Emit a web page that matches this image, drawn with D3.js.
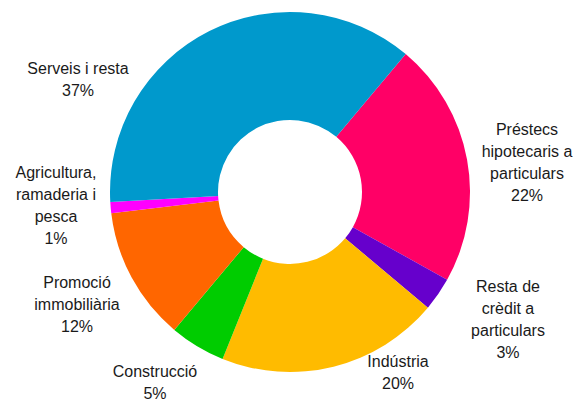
<!DOCTYPE html>
<html>
<head>
<meta charset="utf-8">
<script src="https://cdn.jsdelivr.net/npm/d3@7"></script>
<style>
  html, body { margin: 0; padding: 0; background: #fff; }
  svg text { font-family: "Liberation Sans", Arial, sans-serif; font-size: 16px; fill: #1a1a1a; }
</style>
</head>
<body>
<svg id="chart" width="578" height="399"></svg>
<script>
// Credit distribution by sector (%)
const categories = [
  "Préstecs hipotecaris a particulars",
  "Resta de crèdit a particulars",
  "Indústria",
  "Construcció",
  "Promoció immobiliària",
  "Agricultura, ramaderia i pesca",
  "Serveis i resta"
];
const values = [22, 3, 20, 5, 12, 1, 37];
const colors = ["#ff0066", "#6600cc", "#ffbb00", "#00cc00", "#ff6600", "#ff00ff", "#0099cc"];
// Label text broken into lines
const labelLines = [
  ["Préstecs", "hipotecaris a", "particulars"],
  ["Resta de", "crèdit a", "particulars"],
  ["Indústria"],
  ["Construcció"],
  ["Promoció", "immobiliària"],
  ["Agricultura,", "ramaderia i", "pesca"],
  ["Serveis i resta"]
];
// Label anchor (center x, first baseline y)
const labelPos = [
  [527, 135], [508, 292], [398, 367], [155, 377], [77, 288], [56, 178], [78, 74]
];

const svg = d3.select("#chart");
const cx = 290, cy = 192, rOuter = 180, rInner = 72;

const data = categories.map((c, i) => ({ name: c, value: values[i], color: colors[i], lines: labelLines[i], pos: labelPos[i] }));

const pie = d3.pie()
  .value(d => d.value)
  .sort(null)
  .startAngle(40 * Math.PI / 180)
  .endAngle(400 * Math.PI / 180);

const arc = d3.arc().innerRadius(rInner).outerRadius(rOuter);

const g = svg.append("g").attr("transform", `translate(${cx},${cy})`);
g.selectAll("path")
  .data(pie(data))
  .join("path")
  .attr("d", arc)
  .attr("fill", d => d.data.color);

const lineH = 22;
const labels = svg.selectAll("text.lbl")
  .data(data)
  .join("text")
  .attr("class", "lbl")
  .attr("text-anchor", "middle");

labels.each(function (d) {
  const t = d3.select(this);
  const all = d.lines.concat([d.value + "%"]);
  all.forEach((s, i) => {
    t.append("tspan")
      .attr("x", d.pos[0])
      .attr("y", d.pos[1] + i * lineH)
      .text(s);
  });
});
</script>
</body>
</html>
